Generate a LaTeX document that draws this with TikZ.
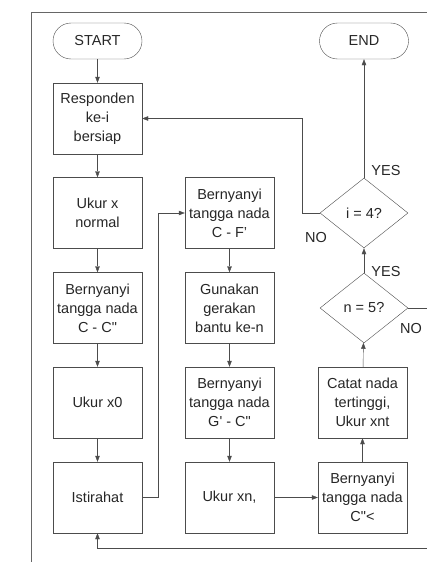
\documentclass[tikz,border=0pt]{standalone}
\usepackage{fontspec}
\setmainfont{Liberation Sans}[Ligatures=TeXOff]
\usetikzlibrary{shapes.geometric,arrows.meta}

\begin{document}
\begin{tikzpicture}[x=1pt, y=-1pt, >={Triangle[length=6pt,width=4.5pt]},
                        every node/.style={font=\fontsize{14.5}{19}\selectfont, text=black!85},
                        process/.style={rectangle, draw=black!70, align=center, minimum width=89pt, minimum height=71pt, inner sep=0pt},
                        terminal/.style={rectangle, rounded corners=18pt, draw=black!70, minimum width=89pt, minimum height=36pt, inner sep=0pt},
                        decision/.style={diamond, draw=black!70, minimum width=88pt, minimum height=70pt, inner sep=0pt},
                        answer/.style={inner sep=0pt},
                        every edge/.style={draw, black!70}]

                        \useasboundingbox (0,0) rectangle (426,562);

                        % Frame
                        \draw[black!60] (31,562) -- (31,12) -- (430,12);

                        % Left column
                        \node[terminal] (S) at (97.5,41) {START}; % Start
                        \node[process] (R) at (97.5,118.5) {Responden\\ke-i\\bersiap};
                        \node[process] (X) at (97.5,213) {Ukur x\\normal};
                        \node[process] (B1) at (97.5,308) {Bernyanyi\\tangga nada\\C - C"};
                        \node[process] (X0) at (97.5,402.5) {Ukur x0};
                        \node[process] (I) at (97.5,497.5) {Istirahat};

                        % Middle column
                        \node[process] (B2) at (229.5,213) {Bernyanyi\\tangga nada\\C - F’};
                        \node[process] (G) at (229.5,308) {Gunakan\\gerakan\\bantu ke-n};
                        \node[process] (B3) at (229.5,402.5) {Bernyanyi\\tangga nada\\G' - C"};
                        \node[process] (XN) at (229.5,497.5) {Ukur xn,};

                        % Right column
                        \node[process] (B4) at (362.5,497.5) {Bernyanyi\\tangga nada\\C"<};
                        \node[process] (C) at (362.5,402.5) {Catat nada\\tertinggi,\\Ukur xnt};
                        \node[decision] (Q5) at (364,308) {n = 5?}; % Inner loop
                        \node[decision] (Q4) at (364,213) {i = 4?}; % Outer loop
                        \node[terminal] (E) at (364,41) {END}; % End

                        \coordinate (loop) at (430,548);

                        % Define edges
                        \path [->](S) edge (R);
                        \path [->](R) edge (X);
                        \path [->](X) edge (B1);
                        \path [->](B1) edge (X0);
                        \path [->](X0) edge (I);
                        \draw [->, black!70](I.east) -- ++(16,0) |- (B2.west);
                        \path [->](B2) edge (G);
                        \path [->](G) edge (B3);
                        \path [->](B3) edge (XN);
                        \path [->](XN) edge (B4);
                        \path [->](B4) edge (C);
                        \path [->](C) edge (Q5);
                        \path [->](Q5) edge (Q4);
                        \path [->](Q4) edge (E);
                        \draw [->, black!70](Q4.west) -- ++(-18,0) |- (R.east);
                        \draw [->, black!70](Q5.east) -| (loop) -| (I.south);

                        % Answers
                        \node[answer] (y4) at (386,171) {YES};
                        \node[answer] (n4) at (316,238) {NO};
                        \node[answer] (y5) at (386,272) {YES};
                        \node[answer] (n5) at (411,329) {NO};
                    \end{tikzpicture}
\end{document}
